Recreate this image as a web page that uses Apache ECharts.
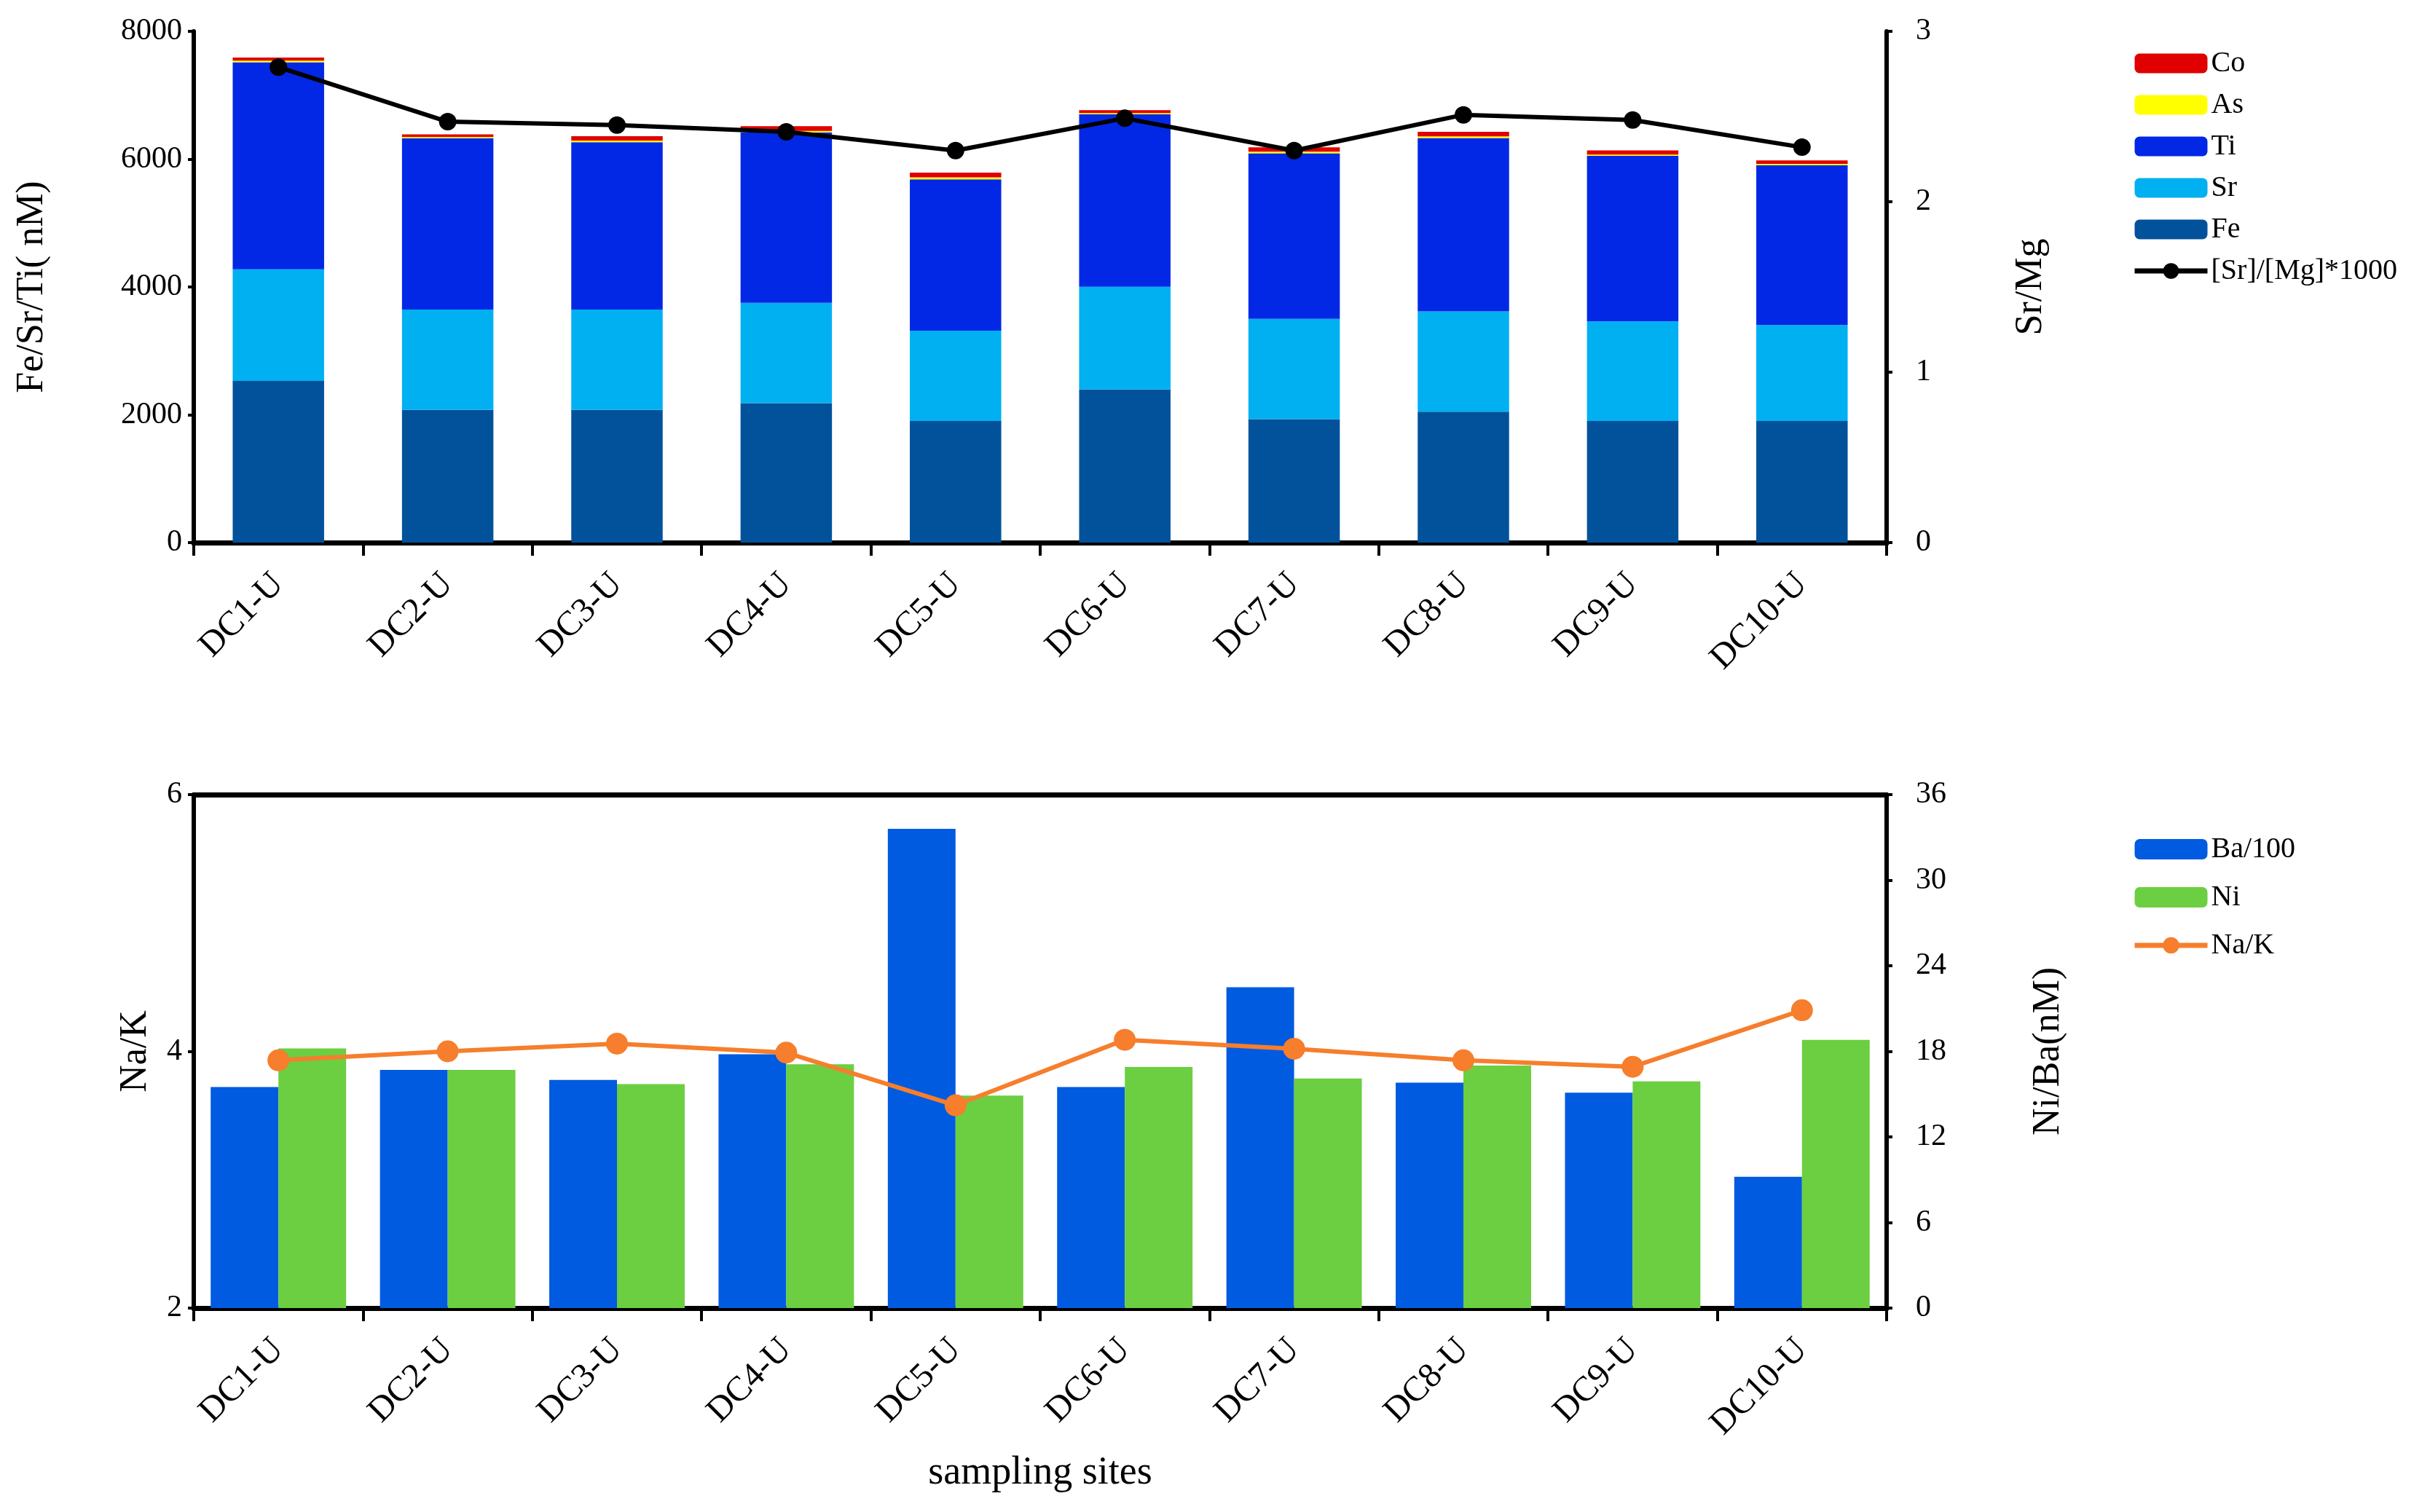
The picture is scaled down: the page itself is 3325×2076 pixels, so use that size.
<!DOCTYPE html>
<html><head><meta charset="utf-8">
<script src="https://cdn.jsdelivr.net/npm/echarts@6/dist/echarts.min.js"></script>
<style>html,body{margin:0;padding:0;background:#fff}#c{width:3325px;height:2076px}</style>
</head><body><div id="c"></div>
<script>
const sites = ['DC1-U','DC2-U','DC3-U','DC4-U','DC5-U','DC6-U','DC7-U','DC8-U','DC9-U','DC10-U'];
// top chart (nM)
const fe = [2530, 2077, 2077, 2181, 1902, 2397, 1931, 2048, 1902, 1902];
const sr = [1746, 1571, 1571, 1571, 1414, 1605, 1571, 1571, 1560, 1502];
const ti = [3240, 2681, 2617, 2665, 2368, 2700, 2589, 2711, 2589, 2501];
const as = [25, 20, 25, 25, 30, 20, 25, 25, 20, 20];
const co = [50, 38, 68, 73, 74, 44, 68, 73, 67, 56];
const srMg = [2.79, 2.47, 2.45, 2.41, 2.30, 2.49, 2.30, 2.51, 2.48, 2.32];
// bottom chart
const ba100 = [15.5, 16.7, 16.0, 17.8, 33.6, 15.5, 22.5, 15.8, 15.1, 9.2];
const ni = [18.2, 16.7, 15.7, 17.1, 14.9, 16.9, 16.1, 17.0, 15.9, 18.8];
const naK = [3.93, 4.00, 4.06, 3.99, 3.58, 4.09, 4.02, 3.93, 3.88, 4.32];
const leftTicksTop = [0, 8000, 2000];
const rightTicksTop = [0, 3, 1];
const leftTicksBot = [2, 6, 2];
const rightTicksBot = [0, 36, 6];

const FONT = 'Liberation Serif';
const lineStyle = {color:'#000', width:6};
function xMain(grid){
  return {type:'category', gridIndex:grid, data:sites, position:'bottom',
    axisLine:{lineStyle:{color:'#000', width:7}},
    axisTick:{show:true, length:18, lineStyle:{color:'#000', width:4}, alignWithLabel:false},
    axisLabel:{rotate:45, margin:50, fontFamily:FONT, fontSize:48, color:'#000', interval:0},
    splitLine:{show:false}};
}
function xTop(grid){
  return {type:'category', gridIndex:grid, data:sites, position:'top',
    axisLine:{lineStyle:{color:'#000', width:7}}, axisTick:{show:false}, axisLabel:{show:false}};
}
function yAx(grid, pos, t, name, gap){
  return {type:'value', gridIndex:grid, position:pos, min:t[0], max:t[1], interval:t[2],
    name:name, nameLocation:'middle', nameGap:gap, nameRotate:90,
    nameTextStyle:{fontFamily:FONT, fontSize:52, color:'#000'},
    axisLine:{show:true, lineStyle:lineStyle},
    axisTick:{show:true, length:8, lineStyle:{color:'#000', width:4}},
    axisLabel:{fontFamily:FONT, fontSize:42, color:'#000', margin: pos==='left'?16:40,
      formatter: v => String(v)},
    splitLine:{show:false}};
}
const xb = xMain(1);
xb.name = 'sampling sites'; xb.nameLocation='middle'; xb.nameGap=200;
xb.nameTextStyle = {fontFamily:FONT, fontSize:54, color:'#000'};

const barW = '54%';
const option = {
  backgroundColor:'#fff',
  animation:false,
  textStyle:{fontFamily:FONT},
  grid:[
    {left:266, top:43, width:2324, height:702},
    {left:266, top:1091, width:2324, height:705}
  ],
  legend:[
    {orient:'vertical', left:2922, top:62, itemWidth:100, itemHeight:27, itemGap:17,
     textStyle:{fontFamily:FONT, fontSize:40, color:'#000'},
     data:['Co','As','Ti','Sr','Fe',{name:'[Sr]/[Mg]*1000', lineStyle:{width:7, color:'#000'}}]},
    {orient:'vertical', left:2922, top:1141, itemWidth:100, itemHeight:28, itemGap:26,
     textStyle:{fontFamily:FONT, fontSize:40, color:'#000'},
     data:['Ba/100','Ni',{name:'Na/K', lineStyle:{width:7, color:'#F67E2C'}}]}
  ],
  xAxis:[xMain(0), xb, xTop(0), xTop(1)],
  yAxis:[
    yAx(0,'left',leftTicksTop,'Fe/Sr/Ti( nM)',196),
    yAx(0,'right',rightTicksTop,'Sr/Mg',172),
    yAx(1,'left',leftTicksBot,'Na/K',54),
    yAx(1,'right',rightTicksBot,'Ni/Ba(nM)',196)
  ],
  series:[
    {name:'Fe', type:'bar', stack:'t', xAxisIndex:0, yAxisIndex:0, data:fe, barWidth:barW, itemStyle:{color:'#01529B'}},
    {name:'Sr', type:'bar', stack:'t', xAxisIndex:0, yAxisIndex:0, data:sr, barWidth:barW, itemStyle:{color:'#00B0F0'}},
    {name:'Ti', type:'bar', stack:'t', xAxisIndex:0, yAxisIndex:0, data:ti, barWidth:barW, itemStyle:{color:'#0228E6'}},
    {name:'As', type:'bar', stack:'t', xAxisIndex:0, yAxisIndex:0, data:as, barWidth:barW, itemStyle:{color:'#FFFF00'}},
    {name:'Co', type:'bar', stack:'t', xAxisIndex:0, yAxisIndex:0, data:co, barWidth:barW, itemStyle:{color:'#E00000'}},
    {name:'[Sr]/[Mg]*1000', type:'line', xAxisIndex:0, yAxisIndex:1, data:srMg, z:5,
     symbol:'circle', symbolSize:24, lineStyle:{color:'#000', width:6}, itemStyle:{color:'#000'}},
    {name:'Ba/100', type:'bar', xAxisIndex:1, yAxisIndex:3, data:ba100, barWidth:'40%', barGap:'0%', itemStyle:{color:'#005BE0'}},
    {name:'Ni', type:'bar', xAxisIndex:1, yAxisIndex:3, data:ni, barWidth:'40%', barGap:'0%', itemStyle:{color:'#6BCF41'}},
    {name:'Na/K', type:'line', xAxisIndex:1, yAxisIndex:2, data:naK, z:5,
     symbol:'circle', symbolSize:30, lineStyle:{color:'#F67E2C', width:6}, itemStyle:{color:'#F67E2C'}}
  ]
};
const chart = echarts.init(document.getElementById('c'));
chart.setOption(option);
</script></body></html>
